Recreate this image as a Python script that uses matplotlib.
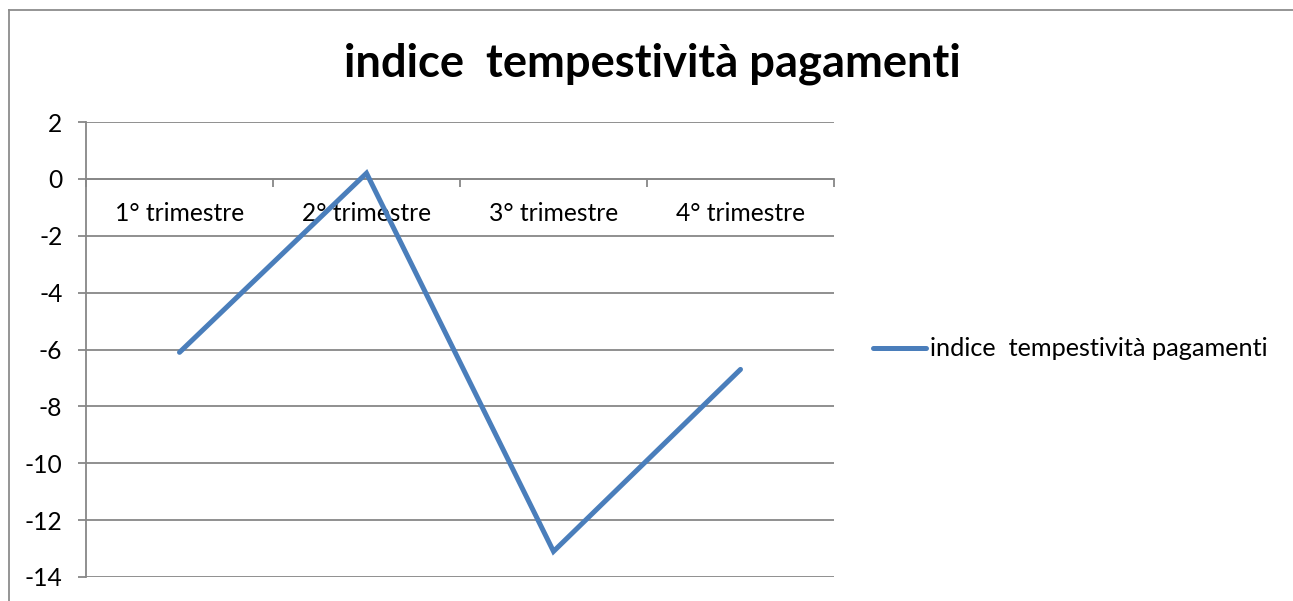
import matplotlib.pyplot as plt
from matplotlib.lines import Line2D

plt.rcParams['font.family'] = ['Lato', 'DejaVu Sans']

# dati
categorie = ['1° trimestre', '2° trimestre', '3° trimestre', '4° trimestre']
valori = [-6.1, 0.2, -13.1, -6.7]
serie = 'indice  tempestività pagamenti'
titolo = 'indice  tempestività pagamenti'
y_ticks = list(range(-14, 3, 2))

W, H = 1293, 601
fig = plt.figure(figsize=(W / 100, H / 100), dpi=100)
fig.patch.set_facecolor('white')

# cornice del grafico (tagliata a destra e in basso come nell'originale)
frame_col = '#8c8c8c'
fig.add_artist(Line2D([9 / W, 9 / W], [0, 1 - 10 / H], transform=fig.transFigure,
                      color=frame_col, lw=1.3))
fig.add_artist(Line2D([9 / W, 1], [1 - 10 / H, 1 - 10 / H], transform=fig.transFigure,
                      color=frame_col, lw=1.3))

ax = fig.add_axes([86 / W, 1 - 577 / H, (834 - 86) / W, (577 - 122) / H])
x = list(range(len(categorie)))
line, = ax.plot(x, valori, color='#4a7ebb', lw=3.6, solid_capstyle='round',
                solid_joinstyle='miter', label=serie, zorder=3)

grid_col = '#878787'
ax.set_xlim(-0.5, len(categorie) - 0.5)
ax.set_ylim(-14, 2)
ax.set_yticks(y_ticks)
ax.set_yticklabels([str(v) for v in y_ticks])
for v in y_ticks:
    ax.axhline(v, color=grid_col, lw=1.3, zorder=1)

for s in ['top', 'right']:
    ax.spines[s].set_visible(False)
ax.spines['left'].set_color(grid_col)
ax.spines['left'].set_linewidth(1.3)
ax.spines['bottom'].set_position(('data', 0))
ax.spines['bottom'].set_color(grid_col)
ax.spines['bottom'].set_linewidth(1.3)

ax.set_xticks(x)
ax.set_xticklabels(categorie)
ax.set_xticks([i - 0.5 for i in range(len(categorie) + 1)], minor=True)
ax.tick_params(axis='x', which='major', length=0, pad=17, labelsize=17.7)
ax.tick_params(axis='x', which='minor', length=6, width=1.3, color=grid_col, direction='out')
ax.tick_params(axis='y', length=6, width=1.3, color=grid_col, pad=11, labelsize=17.7)

fig.text(652 / W, 1 - 64 / H, titolo, ha='center', va='center',
         fontsize=32.7, fontweight='bold')

leg = fig.legend(handles=[line], loc='center left',
                 bbox_to_anchor=(873 / W, 1 - 349 / H), frameon=False,
                 fontsize=18.2, handlelength=2.1, handletextpad=0.15,
                 borderpad=0, borderaxespad=0)

fig.savefig('out.png', dpi=100, facecolor='white')
